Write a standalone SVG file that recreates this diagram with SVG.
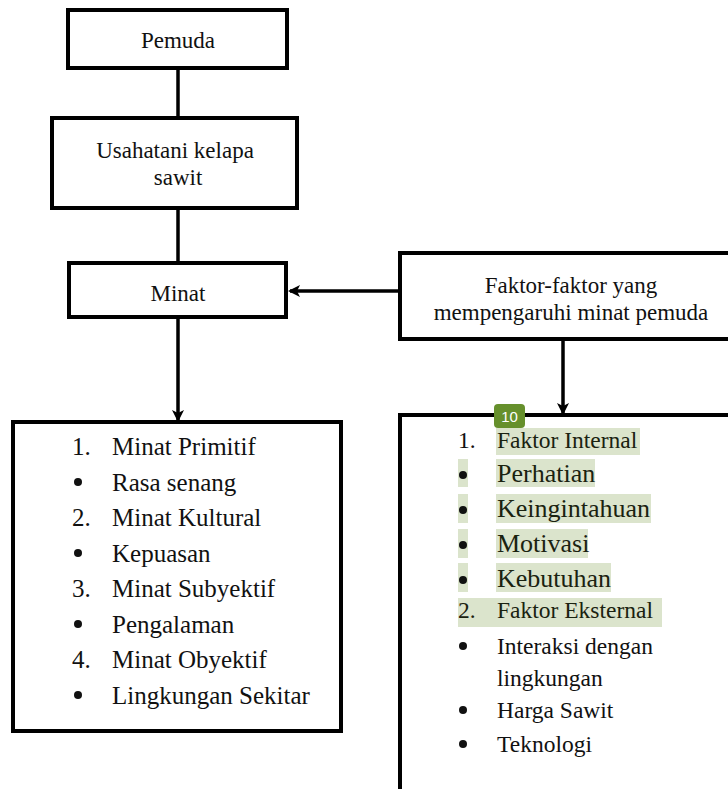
<svg xmlns="http://www.w3.org/2000/svg" width="728" height="789" viewBox="0 0 728 789">
<defs>
<marker id="ah" markerWidth="12" markerHeight="12" refX="10" refY="6" orient="auto" markerUnits="userSpaceOnUse">
<path d="M0,0 L12,6 L0,12 L3,6 Z" fill="#000"/>
</marker>
<style>
.box{fill:#fff;stroke:#000;stroke-width:4}
.hl{fill:#dbe4cc}
.con{stroke:#000;stroke-width:3.5;fill:none}
</style>
</defs>
<rect width="728" height="789" fill="#fff"/>
<g id="connectors">
<line class="con" x1="178" y1="68" x2="178" y2="118"/>
<line class="con" x1="178" y1="208" x2="178" y2="263"/>
<line class="con" x1="400" y1="291" x2="290" y2="291" marker-end="url(#ah)"/>
<line class="con" x1="178" y1="317" x2="178" y2="420" marker-end="url(#ah)"/>
<line class="con" x1="563" y1="339" x2="563" y2="413" marker-end="url(#ah)"/>
</g>
<g font-family="Liberation Serif, serif" fill="#111" font-size="23" text-anchor="middle">
<g id="pemuda">
<rect class="box" x="68" y="10" width="219" height="58" stroke-width="5"/>
<text x="178" y="48">Pemuda</text>
</g>
<g id="usahatani">
<rect class="box" x="52" y="118" width="245" height="90"/>
<text x="175" y="158">Usahatani kelapa</text>
<text x="178" y="185">sawit</text>
</g>
<g id="minat">
<rect class="box" x="69" y="263" width="217" height="54"/>
<text x="178" y="301">Minat</text>
</g>
<g id="faktor">
<rect class="box" x="400" y="253" width="345" height="86"/>
<text x="571" y="293">Faktor-faktor yang</text>
<text x="571" y="320">mempengaruhi minat pemuda</text>
</g>
</g>
<g id="jenis-minat">
<rect class="box" x="13" y="422" width="328" height="309"/>
<g font-family="Liberation Serif, serif" fill="#111" font-size="25">
<text x="72" y="455">1.</text><text x="112" y="455">Minat Primitif</text>
<circle cx="78" cy="482" r="4" fill="#111"/><text x="112" y="490.5">Rasa senang</text>
<text x="72" y="526">2.</text><text x="112" y="526">Minat Kultural</text>
<circle cx="78" cy="553" r="4" fill="#111"/><text x="112" y="561.5">Kepuasan</text>
<text x="72" y="597">3.</text><text x="112" y="597">Minat Subyektif</text>
<circle cx="78" cy="624" r="4" fill="#111"/><text x="112" y="632.5">Pengalaman</text>
<text x="72" y="668">4.</text><text x="112" y="668">Minat Obyektif</text>
<circle cx="78" cy="695" r="4" fill="#111"/><text x="112" y="703.5">Lingkungan Sekitar</text>
</g>
</g>
<g id="faktor-list">
<rect class="box" x="400" y="415" width="345" height="390"/>
<rect class="hl" x="496" y="428" width="144" height="27"/>
<rect class="hl" x="458" y="459" width="10" height="28"/><rect class="hl" x="496" y="459" width="99" height="28"/>
<rect class="hl" x="458" y="494" width="10" height="29"/><rect class="hl" x="496" y="494" width="155" height="29"/>
<rect class="hl" x="458" y="529" width="10" height="29"/><rect class="hl" x="496" y="529" width="92" height="29"/>
<rect class="hl" x="458" y="563" width="10" height="29"/><rect class="hl" x="496" y="563" width="115" height="29"/>
<rect class="hl" x="458" y="598" width="204" height="29"/>
<g font-family="Liberation Serif, serif" fill="#111" font-size="23.5">
<text x="458" y="448">1.</text><text x="497" y="448" fill="#1a2210">Faktor Internal</text>
<text x="458" y="618" fill="#1a2210">2.</text><text x="497" y="618" fill="#1a2210">Faktor Eksternal</text>
<circle cx="463" cy="646" r="4" fill="#111"/><text x="497" y="654">Interaksi dengan</text>
<text x="497" y="686">lingkungan</text>
<circle cx="463" cy="710" r="4" fill="#111"/><text x="497" y="718">Harga Sawit</text>
<circle cx="463" cy="744" r="4" fill="#111"/><text x="497" y="752">Teknologi</text>
</g>
<g font-family="Liberation Serif, serif" fill="#1a2210" font-size="26">
<circle cx="463" cy="475" r="4" fill="#111"/><text x="497" y="482">Perhatian</text>
<circle cx="463" cy="510" r="4" fill="#111"/><text x="497" y="517">Keingintahuan</text>
<circle cx="463" cy="545" r="4" fill="#111"/><text x="497" y="552">Motivasi</text>
<circle cx="463" cy="580" r="4" fill="#111"/><text x="497" y="587">Kebutuhan</text>
</g>
<rect x="494" y="404" width="31" height="24" rx="4" fill="#66902c"/>
<text x="509.5" y="422" font-family="Liberation Sans, sans-serif" font-size="15" fill="#fff" text-anchor="middle">10</text>
</g>
</svg>
